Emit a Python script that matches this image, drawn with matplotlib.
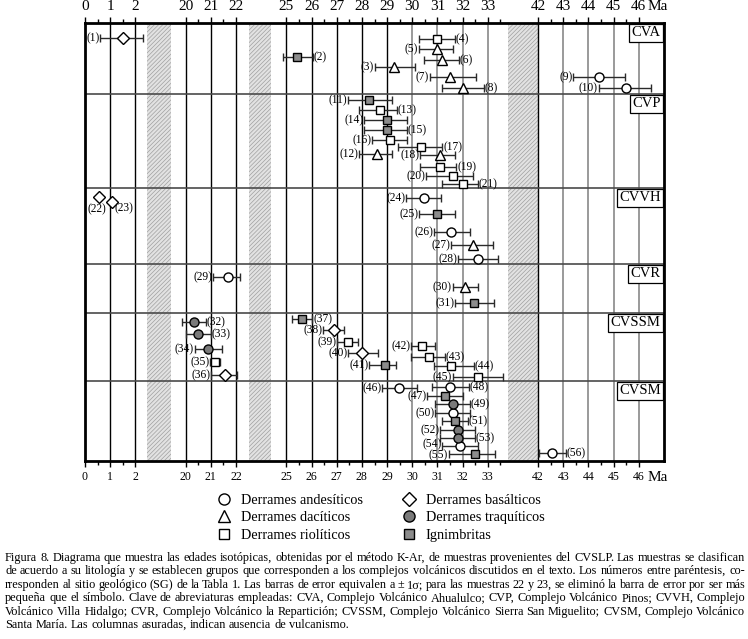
import numpy as np
import matplotlib
matplotlib.use('Agg')
import matplotlib.pyplot as plt
from matplotlib.lines import Line2D

plt.rcParams['font.family'] = ['Liberation Serif', 'DejaVu Serif']
plt.rcParams['hatch.linewidth'] = 0.5

# K-Ar ages (Ma)
sample_id = list(range(1, 57))
age = [1.5, 25.43, 29.27, 30.97, 31.0, 31.2, 31.5, 32.0, 44.4, 45.5,
       28.3, 28.6, 28.7, 29.0, 29.0, 29.1, 30.35, 31.1, 31.1, 31.6,
       32.0, 0.55, 1.08, 30.45, 30.97, 31.55, 32.4, 32.6, 21.67, 32.1,
       32.45, 20.33, 20.5, 20.9, 21.15, 21.55, 25.63, 26.9, 27.45, 28.0,
       28.9, 30.4, 30.65, 31.55, 32.6, 29.47, 31.3, 31.5, 31.6, 31.6,
       31.7, 31.8, 31.8, 31.9, 32.5, 42.55]
err_lo = [0.6, 24.85, 28.5, 30.26, 30.26, 30.45, 30.7, 31.2, 43.4, 44.4,
          27.45, 27.9, 27.9, 28.1, 28.1, 28.4, 29.45, 30.3, 30.3, 30.55,
          31.2, np.nan, np.nan, 29.75, 30.26, 30.85, 31.55, 31.8, 21.1, 31.6,
          31.7, 19.85, 20.0, 20.35, 20.98, 21.0, 25.24, 26.45, 27.0, 27.45,
          28.3, 29.95, 29.95, 30.85, 31.6, 28.8, 30.6, 30.8, 30.9, 30.9,
          31.2, 31.1, 31.1, 31.2, 31.45, 42.05]
err_hi = [2.3, 26.05, 30.1, 31.68, 31.6, 31.85, 32.55, 32.85, 45.45, 46.5,
          29.2, 29.2, 29.4, 29.8, 29.8, 29.8, 31.2, 31.7, 31.75, 32.4,
          32.6, np.nan, np.nan, 31.15, 31.7, 32.3, 33.2, 33.4, 22.15, 32.6,
          33.25, 20.8, 21.0, 21.45, 21.35, 22.05, 26.03, 27.3, 27.85, 28.65,
          29.35, 30.9, 31.3, 32.45, 33.6, 30.2, 32.0, 32.25, 32.3, 32.3,
          32.2, 32.5, 32.5, 32.6, 33.3, 43.1]
rock = ['bas', 'ign', 'dac', 'rio', 'dac', 'dac', 'dac', 'dac', 'and', 'and',
        'ign', 'dac', 'rio', 'ign', 'ign', 'rio', 'rio', 'dac', 'rio', 'rio',
        'rio', 'bas', 'bas', 'and', 'ign', 'and', 'dac', 'and', 'and', 'dac',
        'ign', 'tra', 'tra', 'tra', 'rio', 'bas', 'ign', 'bas', 'rio', 'bas',
        'ign', 'rio', 'rio', 'rio', 'rio', 'and', 'ign', 'and', 'tra', 'and',
        'ign', 'tra', 'tra', 'and', 'ign', 'and']
# vertical slot of each sample inside the stacked panels
row = [38, 57, 67, 39, 49, 60, 77, 88, 77, 88,
       100, 154, 110, 120, 130, 140, 147, 155, 167, 176,
       184, 197, 202, 198, 214, 232, 245, 259, 277, 287,
       303, 322, 334, 349, 362, 375, 319, 330, 342, 353,
       365, 346, 357, 366, 377, 388, 396, 387, 404, 413,
       421, 430, 438, 446, 454, 453]
label_side = ['l', 'r', 'l', 'r', 'l', 'r', 'l', 'r', 'l', 'l',
              'l', 'l', 'r', 'l', 'r', 'l', 'r', 'l', 'r', 'l',
              'r', 'bl', 'br', 'l', 'l', 'l', 'l', 'l', 'l', 'l',
              'l', 'r', 'r', 'l', 'l', 'l', 'r', 'l', 'l', 'l',
              'l', 'l', 'r', 'r', 'l', 'l', 'l', 'r', 'r', 'l',
              'r', 'l', 'r', 'l', 'l', 'r']

panel_names = ['CVA', 'CVP', 'CVVH', 'CVR', 'CVSSM', 'CVSM']
panel_top = [23, 94, 188, 264, 313, 381]
panel_bottom = 461

tick_ma = [0, 1, 2, 20, 21, 22, 25, 26, 27, 28, 29, 30, 31, 32, 33,
           42, 43, 44, 45, 46]
gaps = [(2.46, 19.41), (22.5, 24.38), (33.8, 42.0)]

legend_types = ['and', 'dac', 'rio', 'bas', 'tra', 'ign']
legend_labels = ['Derrames andesíticos', 'Derrames dacíticos',
                 'Derrames riolíticos', 'Derrames basálticos',
                 'Derrames traquíticos', 'Ignimbritas']

caption = [
    "Figura 8. Diagrama que muestra las edades isotópicas, obtenidas por el método K-Ar, de muestras provenientes del CVSLP. Las muestras se clasifican",
    "de acuerdo a su litología y se establecen grupos que corresponden a los complejos volcánicos discutidos en el texto. Los números entre paréntesis, co-",
    "rresponden al sitio geológico (SG) de la Tabla 1. Las barras de error equivalen a ± 1σ; para las muestras 22 y 23, se eliminó la barra de error por ser más",
    "pequeña que el símbolo. Clave de abreviaturas empleadas: CVA, Complejo Volcánico Ahualulco; CVP, Complejo Volcánico Pinos; CVVH, Complejo",
    "Volcánico Villa Hidalgo; CVR, Complejo Volcánico la Repartición; CVSSM, Complejo Volcánico Sierra San Miguelito; CVSM, Complejo Volcánico",
    "Santa María. Las columnas asuradas, indican ausencia de vulcanismo.",
]

# broken time axis: the empty intervals are squeezed into narrow columns
ma_knots = [0, 2.46, 19.41, 22.5, 24.38, 33.8, 42, 47]
u_knots = [0, 2.46, 3.41, 6.5, 7.38, 16.8, 18, 23]


def fwd(x):
    return np.interp(x, ma_knots, u_knots)


def inv(u):
    return np.interp(u, u_knots, ma_knots)


styles = {
    'and': dict(marker='o', mfc='white', ms=6.5),
    'dac': dict(marker='^', mfc='white', ms=7),
    'rio': dict(marker='s', mfc='white', ms=6),
    'bas': dict(marker='D', mfc='white', ms=6),
    'tra': dict(marker='o', mfc='#7a7a7a', ms=6.5),
    'ign': dict(marker='s', mfc='#8c8c8c', ms=6),
}

W, H = 748, 639
fig = plt.figure(figsize=(W / 100, H / 100), dpi=100)
ax = fig.add_axes([85 / W, 1 - 461 / H, (664 - 85) / W, (461 - 23) / H])
ax.set_xscale('function', functions=(fwd, inv))
ax.set_xlim(0, 47)
ax.set_ylim(panel_bottom, panel_top[0])

for a, b in gaps:
    ax.axvspan(a, b, facecolor='#e2e2e2', edgecolor='#a0a0a0', hatch='////////',
               linewidth=0, zorder=1)

for t in tick_ma[1:]:
    grey = (30 <= t <= 33) or (43 <= t <= 46)
    ax.axvline(t, color='#9a9a9a' if grey else 'black',
               lw=1.4 if grey else 1.0, zorder=1.5)

for y in panel_top[1:]:
    ax.axhline(y, color='#4a4a4a', lw=1.2, zorder=1.6)

for name, y in zip(panel_names, panel_top):
    ax.annotate(name, xy=(1, y), xycoords=('axes fraction', 'data'),
                xytext=(-2.5, -2.5), textcoords='offset points',
                ha='right', va='top', fontsize=10.5, zorder=6,
                bbox=dict(boxstyle='square,pad=0.15', fc='white', ec='black', lw=0.9))

age_a = np.array(age)
lo_a = np.array(err_lo)
hi_a = np.array(err_hi)
row_a = np.array(row)
ok = ~np.isnan(lo_a)
ax.errorbar(age_a[ok], row_a[ok], xerr=[age_a[ok] - lo_a[ok], hi_a[ok] - age_a[ok]],
            fmt='none', ecolor='#2a2a2a', elinewidth=1.0, capsize=2.6,
            capthick=1.0, zorder=3)

for kind, st in styles.items():
    idx = [i for i, r in enumerate(rock) if r == kind]
    ax.plot(age_a[idx], row_a[idx], ls='none', mec='black', mew=1.0,
            zorder=4, **st)

offsets = {'l': (-0.5, 0), 'r': (0.5, 0), 'bl': (-1.5, -8.5), 'br': (8.5, -4.5)}
nudge = {54: 1.2, 55: -1.2}  # keep the two tight labels apart
for i, sid in enumerate(sample_id):
    side = label_side[i]
    if side == 'l':
        xy, ha = (err_lo[i], row[i]), 'right'
    elif side == 'r':
        xy, ha = (err_hi[i], row[i]), 'left'
    else:
        xy, ha = (age[i], row[i]), 'center'
    dx, dy = offsets[side]
    ax.annotate(f'({sid})', xy=xy, xytext=(dx, dy + nudge.get(sid, 0)),
                textcoords='offset points', ha=ha, va='center', fontsize=8.3,
                zorder=5)

ax.set_xticks(tick_ma)
minor = [0.5, 1.5, 20.5, 21.5] + [v + 0.5 for v in range(25, 34)] + \
        [v + 0.5 for v in range(42, 46)]
ax.set_xticks(minor, minor=True)
ax.set_xticklabels([str(t) for t in tick_ma])
ax.set_yticks([])
ax.tick_params(axis='x', which='both', top=True, labeltop=True, direction='out',
               width=1.0)
ax.tick_params(axis='x', which='major', length=4.5, pad=2.5)
ax.tick_params(axis='x', which='minor', length=3)
for tk in ax.xaxis.get_major_ticks():
    tk.label1.set_fontsize(8.5)
    tk.label2.set_fontsize(11)
ax.annotate('Ma', xy=(46.75, 1), xycoords=('data', 'axes fraction'), xytext=(0, 7),
            textcoords='offset points', ha='center', va='bottom', fontsize=11)
ax.annotate('Ma', xy=(46.75, 0), xycoords=('data', 'axes fraction'), xytext=(0, -7),
            textcoords='offset points', ha='center', va='top', fontsize=11)
for sp in ax.spines.values():
    sp.set_linewidth(2.0)

handles = [Line2D([], [], ls='none', mec='black', mew=1.0,
                  **dict(styles[k], ms=styles[k]['ms'] + 1.5)) for k in legend_types]
fig.legend(handles, legend_labels, ncol=2, frameon=False, loc='upper left',
           bbox_to_anchor=(208 / W, 1 - 487 / H), fontsize=10.3,
           labelspacing=0.3, columnspacing=2.6, handlelength=1.2,
           handletextpad=0.6, borderpad=0)

# justified caption
r = fig.canvas.get_renderer()
x0, x1 = 5, 745
size = 8.8
for k, line in enumerate(caption):
    yb = 1 - (561 + 13.4 * k) / H
    words = line.split(' ')
    texts = [fig.text(0, yb, w, fontsize=size, va='baseline') for w in words]
    widths = [t.get_window_extent(r).width for t in texts]
    if k < len(caption) - 1:
        gap = (x1 - x0 - sum(widths)) / (len(words) - 1)
    else:
        gap = size * 0.25 * 100 / 72
    x = x0
    for t, w in zip(texts, widths):
        t.set_x(x / W)
        x += w + gap

fig.savefig('out.png', dpi=100)
